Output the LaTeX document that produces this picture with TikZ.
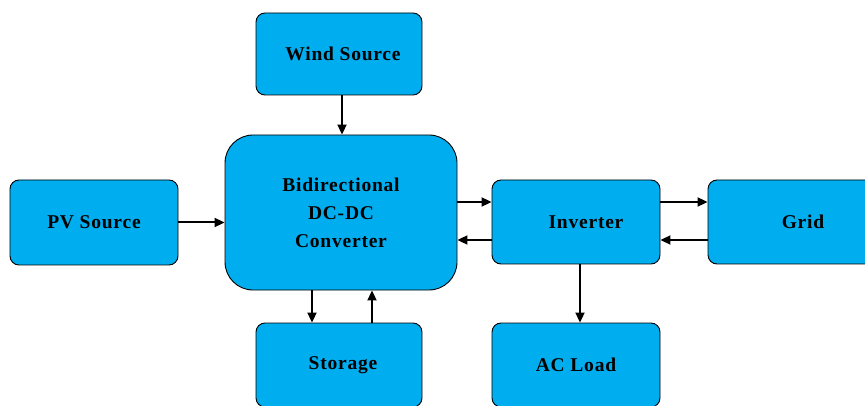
\documentclass[tikz,border=0pt]{standalone}
\usepackage{fontspec}
\setmainfont{Liberation Serif}
\usetikzlibrary{arrows.meta}
\definecolor{boxcyan}{HTML}{00AEEF}
\tikzset{
  blk/.style={draw=black, line width=0.9pt, fill=boxcyan, rounded corners=9pt, inner sep=0pt,
    font=\fontsize{19.5}{28}\selectfont\bfseries\addfontfeatures{LetterSpace=4}, align=center},
  conn/.style={line width=2pt, -{Triangle[length=10pt,width=9pt]}}
}
\begin{document}
\begin{tikzpicture}[x=1pt,y=-1pt]
\useasboundingbox (0,0) rectangle (865,406);
\clip (0,0) rectangle (865,406);
\node[blk, minimum width=166pt, minimum height=82pt] (wind) at (339,54) {\hspace*{8pt}Wind Source};
\node[blk, minimum width=232pt, minimum height=155pt, rounded corners=28pt] (conv) at (341,212.5) {Bidirectional\\DC-DC\\Converter};
\node[blk, minimum width=168pt, minimum height=85pt] (pv) at (94,222.5) {PV Source};
\node[blk, minimum width=168pt, minimum height=84pt] (inv) at (576,222) {\hspace*{20pt}Inverter};
\node[blk, minimum width=190pt, minimum height=84pt] (grid) at (803,222) {Grid};
\node[blk, minimum width=166pt, minimum height=84pt] (stor) at (339,365) {\hspace*{8pt}Storage};
\node[blk, minimum width=168pt, minimum height=84pt] (load) at (576,365) {AC Load};
\draw[conn] (wind.south -| 342,0) -- (conv.north -| 342,0);
\draw[conn] (pv.east) -- (pv.east -| conv.west);
\draw[conn] (conv.east |- 0,202) -- (inv.west |- 0,202);
\draw[conn] (inv.west |- 0,240) -- (conv.east |- 0,240);
\draw[conn] (inv.east |- 0,202) -- (grid.west |- 0,202);
\draw[conn] (grid.west |- 0,240) -- (inv.east |- 0,240);
\draw[conn] (conv.south -| 312,0) -- (stor.north -| 312,0);
\draw[conn] (stor.north -| 372,0) -- (conv.south -| 372,0);
\draw[conn] (inv.south -| 580,0) -- (load.north -| 580,0);
\end{tikzpicture}
\end{document}
